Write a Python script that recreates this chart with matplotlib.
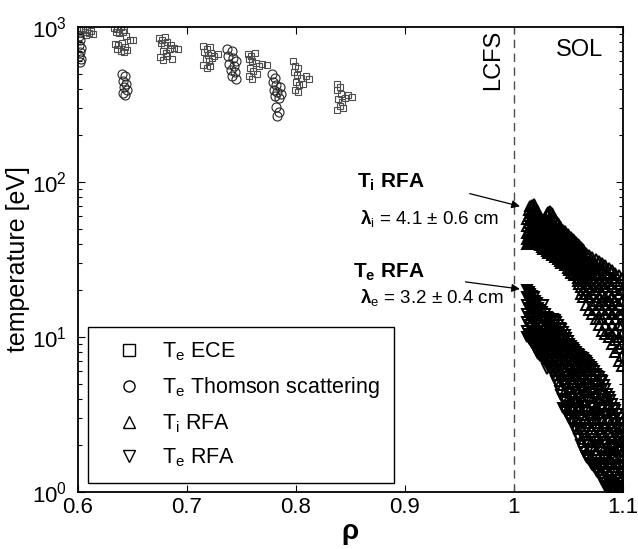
import numpy as np
import matplotlib
matplotlib.use('Agg')
import matplotlib.pyplot as plt

plt.rcParams['font.family'] = ['Liberation Sans', 'DejaVu Sans']
plt.rcParams['mathtext.fontset'] = 'custom'
plt.rcParams['mathtext.rm'] = 'Liberation Sans'
plt.rcParams['mathtext.it'] = 'Liberation Sans:italic'
plt.rcParams['mathtext.bf'] = 'Liberation Sans:bold'

# T_e ECE (squares)
ece_rho = [0.601, 0.603, 0.605, 0.606, 0.608, 0.610, 0.612, 0.614, 0.602, 0.607,
           0.633, 0.636, 0.639, 0.642, 0.635, 0.638, 0.641, 0.644, 0.648, 0.650,
           0.634, 0.637, 0.640, 0.643, 0.636, 0.639, 0.645, 0.642,
           0.674, 0.677, 0.680, 0.676, 0.679, 0.682, 0.685, 0.688, 0.692, 0.678,
           0.681, 0.684, 0.675, 0.678, 0.682, 0.686,
           0.715, 0.718, 0.721, 0.716, 0.719, 0.722, 0.725, 0.728, 0.717, 0.720,
           0.723, 0.715, 0.718, 0.721,
           0.756, 0.759, 0.762, 0.757, 0.760, 0.763, 0.766, 0.769, 0.773, 0.758,
           0.761, 0.764, 0.757, 0.760,
           0.797, 0.799, 0.802, 0.798, 0.801, 0.805, 0.809, 0.812, 0.800, 0.803,
           0.806, 0.799, 0.802,
           0.838, 0.840, 0.838, 0.841, 0.839, 0.842, 0.845, 0.848, 0.851, 0.840,
           0.843, 0.838]
ece_T = [990, 960, 985, 930, 955, 920, 940, 905, 900, 890,
         990, 975, 995, 960, 930, 910, 935, 880, 830, 820,
         780, 760, 790, 740, 720, 700, 710, 690,
         850, 830, 860, 790, 770, 800, 760, 730, 720, 700,
         680, 720, 640, 610, 650, 620,
         750, 720, 740, 690, 660, 680, 650, 670, 620, 600,
         630, 570, 545, 560,
         670, 650, 675, 620, 600, 590, 560, 580, 570, 540,
         520, 500, 480, 465,
         600, 560, 540, 510, 490, 470, 480, 460, 440, 420,
         430, 395, 380,
         430, 410, 390, 370, 345, 330, 350, 365, 355, 310,
         300, 290]

# T_e Thomson scattering (circles)
ts_rho = [0.601, 0.602, 0.601, 0.603, 0.602, 0.601, 0.603, 0.602,
          0.640, 0.643, 0.641, 0.644, 0.642, 0.645, 0.641, 0.643,
          0.737, 0.741, 0.738, 0.742, 0.745, 0.739, 0.743, 0.740, 0.744, 0.741, 0.745,
          0.778, 0.781, 0.779, 0.782, 0.785, 0.780, 0.783, 0.786, 0.781, 0.784,
          0.782, 0.784, 0.783]
ts_T = [880, 820, 770, 730, 690, 650, 620, 595,
        500, 480, 450, 430, 410, 390, 375, 365,
        720, 700, 650, 630, 600, 580, 560, 530, 510, 480, 460,
        500, 470, 440, 420, 410, 395, 380, 370, 360, 350,
        305, 285, 265]

# T_i RFA (up triangles), one list of values per rho column
ti_rho = [1.012, 1.015, 1.018, 1.021, 1.024, 1.027, 1.030, 1.033, 1.036, 1.039,
          1.042, 1.045, 1.048, 1.051, 1.054, 1.057, 1.060, 1.063, 1.066, 1.069,
          1.072, 1.075, 1.078, 1.081, 1.084, 1.087, 1.090, 1.093, 1.096, 1.099,
          1.0135, 1.0165, 1.0195, 1.0225, 1.0255, 1.0285, 1.0315, 1.0345, 1.0375,
          1.0405, 1.0435, 1.0465, 1.0495, 1.0525, 1.0555, 1.0585, 1.0615]
ti_T = [[58, 52, 47, 43, 40],
        [70, 63, 57, 51, 46, 42],
        [72, 65, 59, 53, 48, 44],
        [66, 60, 54, 49, 45, 41],
        [60, 55, 50, 46, 42, 39],
        [56, 52, 47, 43, 39, 37],
        [62, 56, 51, 46, 42, 38, 36],
        [65, 58, 52, 47, 43, 39, 35],
        [60, 55, 50, 45, 41, 37, 34],
        [56, 51, 47, 43, 39, 36, 33],
        [52, 48, 44, 40, 37, 34, 31],
        [49, 46, 42, 38, 35, 32, 30],
        [47, 43, 40, 36, 33, 31, 29],
        [45, 41, 38, 35, 32, 29, 27],
        [43, 40, 36, 33, 30, 28, 26],
        [41, 38, 35, 32, 29, 27, 25],
        [39, 36, 33, 30, 28, 26, 24, 22],
        [37, 34, 31, 29, 27, 25, 23, 20, 18],
        [35, 32, 30, 28, 26, 24, 22, 19, 16],
        [34, 31, 29, 27, 25, 23, 21, 18, 15],
        [33, 30, 28, 26, 24, 21, 19, 16, 14],
        [32, 29, 27, 25, 22, 20, 17, 15, 13],
        [31, 28, 26, 23, 21, 18, 16, 13, 12],
        [30, 27, 24, 22, 19, 17, 15, 13, 11],
        [29, 26, 23, 21, 18, 16, 14, 12, 10.5],
        [28, 25, 22, 19, 17, 15, 13, 11, 10],
        [27, 24, 21, 18, 16, 14, 12, 10.5, 9],
        [26, 23, 20, 17, 15, 13, 11, 9.5, 8],
        [25, 22, 19, 16, 14, 12, 10, 8.5, 7],
        [24, 20, 17, 14, 12, 10.5, 9, 7.5, 6.5],
        [66, 60, 54, 48, 44, 41],
        [71, 64, 58, 52, 47, 43],
        [69, 62, 56, 50, 46, 42],
        [63, 57, 52, 47, 43, 40],
        [57, 53, 48, 44, 41, 38],
        [59, 54, 49, 44, 40, 37],
        [64, 57, 51, 46, 42, 38, 35],
        [63, 57, 51, 46, 42, 38, 34],
        [58, 53, 48, 44, 40, 36, 33],
        [54, 49, 45, 41, 38, 35, 32],
        [50, 47, 43, 39, 36, 33, 30],
        [48, 44, 41, 37, 34, 31, 29],
        [46, 42, 39, 35, 32, 30, 28],
        [44, 40, 37, 34, 31, 28, 26],
        [42, 39, 35, 32, 30, 27, 25],
        [40, 37, 34, 31, 28, 26, 24, 23],
        [38, 35, 32, 29, 27, 25, 23, 21, 19]]

# T_e RFA (down triangles)
te_rho = [1.012, 1.015, 1.018, 1.021, 1.024, 1.027, 1.030, 1.033, 1.036, 1.039,
          1.042, 1.045, 1.048, 1.051, 1.054, 1.057, 1.060, 1.063, 1.066, 1.069,
          1.072, 1.075, 1.078, 1.081, 1.084, 1.087, 1.090, 1.093, 1.096, 1.099,
          1.0135, 1.0165, 1.0195, 1.0225, 1.0255, 1.0285, 1.0315, 1.0345, 1.0375,
          1.0405, 1.0435, 1.0465, 1.0495, 1.0525, 1.0555, 1.0585, 1.0615, 1.0645,
          1.0675, 1.0705, 1.0735, 1.0765, 1.0795, 1.0825, 1.0855, 1.0885, 1.0915,
          1.0945, 1.0975]
te_T = [[20, 18, 16, 14, 12.5, 11, 10],
        [19, 17, 15, 13.5, 12, 10.5, 9.5],
        [18, 16, 14, 12.5, 11, 10, 9],
        [16.5, 14, 12.5, 11, 10, 9, 8],
        [15, 13.5, 12, 10.5, 9.5, 8.5, 7.5],
        [16, 13, 11.5, 10, 9, 8, 7.2],
        [13.5, 12, 10.5, 9.5, 8.5, 7.5, 6.8, 6.2],
        [13, 11.5, 10, 9, 8, 7, 6.3],
        [13, 11, 9.5, 8.5, 7.5, 6.5, 5.8],
        [12.5, 10.5, 9, 8, 7, 6, 5.2],
        [11.5, 10, 8.5, 7.5, 6.5, 5.5, 4.5],
        [10.8, 9.5, 8, 7, 6, 5, 4, 3.5],
        [9.8, 8.6, 7.5, 6.5, 5.5, 4.6, 3.8, 3.3],
        [9, 8, 7, 6, 5.2, 4.3, 3.5, 3.0],
        [8.5, 7.5, 6.5, 5.6, 4.8, 4.0, 3.3, 2.8],
        [8, 7, 6, 5.2, 4.4, 3.7, 3.0, 2.5],
        [7.6, 6.6, 5.6, 4.8, 4.0, 3.3, 2.6, 2.2],
        [7.3, 6.2, 5.2, 4.4, 3.6, 2.9, 2.3, 1.9],
        [7.0, 5.9, 4.9, 4.1, 3.3, 2.6, 2.1, 1.7],
        [6.6, 5.5, 4.6, 3.8, 3.0, 2.4, 1.9, 1.6],
        [6.2, 5.2, 4.3, 3.5, 2.8, 2.2, 1.8, 1.5],
        [5.8, 4.8, 4.0, 3.2, 2.6, 2.0, 1.6, 1.4],
        [5.5, 4.5, 3.7, 3.0, 2.4, 1.9, 1.5, 1.3],
        [5.2, 4.2, 3.4, 2.8, 2.2, 1.7, 1.4, 1.2],
        [4.6, 3.8, 3.1, 2.5, 2.0, 1.6, 1.3, 1.1],
        [4.1, 3.4, 2.8, 2.3, 1.8, 1.5, 1.2, 1.05],
        [3.7, 3.0, 2.5, 2.0, 1.7, 1.4, 1.15, 1.0],
        [3.4, 2.8, 2.3, 1.9, 1.6, 1.3, 1.1, 1.0],
        [3.0, 2.5, 2.1, 1.7, 1.45, 1.2, 1.05],
        [2.6, 2.2, 1.8, 1.5, 1.3, 1.1, 1.0],
        [19.5, 17.5, 15.5, 13.5, 12, 10.5, 9.8],
        [18.5, 16.5, 14.5, 13, 11.5, 10.2, 9.2],
        [17, 15, 13.5, 12, 10.5, 9.5, 8.5],
        [15.5, 14, 12.5, 11, 9.8, 8.8, 7.8],
        [14.5, 13, 11.5, 10.2, 9.2, 8.2, 7.3],
        [14, 12.5, 11, 9.8, 8.8, 7.8, 7.0],
        [13.2, 11.8, 10.3, 9.2, 8.2, 7.2, 6.5],
        [13, 11.2, 9.8, 8.8, 7.8, 6.8, 6.0],
        [12.8, 10.8, 9.3, 8.2, 7.2, 6.2, 5.5],
        [12, 10.2, 8.8, 7.8, 6.8, 5.8, 4.9],
        [11.2, 9.8, 8.3, 7.2, 6.2, 5.2, 4.2],
        [10.3, 9, 7.8, 6.8, 5.8, 4.8, 3.9, 3.4],
        [9.4, 8.3, 7.2, 6.2, 5.3, 4.4, 3.6, 3.1],
        [8.8, 7.8, 6.8, 5.8, 5.0, 4.1, 3.4, 2.9],
        [8.2, 7.2, 6.2, 5.4, 4.6, 3.8, 3.1, 2.6],
        [7.8, 6.8, 5.8, 5.0, 4.2, 3.5, 2.8, 2.3],
        [7.4, 6.4, 5.4, 4.6, 3.8, 3.1, 2.5, 2.0],
        [7.1, 6.0, 5.0, 4.2, 3.4, 2.7, 2.2, 1.8],
        [6.8, 5.7, 4.7, 3.9, 3.1, 2.5, 2.0, 1.65],
        [6.4, 5.3, 4.4, 3.6, 2.9, 2.3, 1.85, 1.55],
        [6.0, 5.0, 4.1, 3.3, 2.7, 2.1, 1.7, 1.45],
        [5.6, 4.6, 3.8, 3.1, 2.5, 1.95, 1.55, 1.35],
        [5.3, 4.3, 3.5, 2.9, 2.3, 1.8, 1.45, 1.25],
        [4.9, 4.0, 3.2, 2.6, 2.1, 1.65, 1.35, 1.15],
        [4.3, 3.6, 2.9, 2.4, 1.9, 1.55, 1.25, 1.08],
        [3.9, 3.2, 2.6, 2.1, 1.75, 1.45, 1.18, 1.02],
        [3.5, 2.9, 2.4, 1.95, 1.65, 1.35, 1.12, 1.0],
        [3.2, 2.6, 2.2, 1.8, 1.5, 1.25, 1.08],
        [2.8, 2.3, 1.9, 1.6, 1.35, 1.15, 1.02]]

labels = [r'T$_\mathregular{e}$ ECE', r'T$_\mathregular{e}$ Thomson scattering',
          r'T$_\mathregular{i}$ RFA', r'T$_\mathregular{e}$ RFA']


def flatten(rho, vals):
    xs, ys = [], []
    for r, col in zip(rho, vals):
        for v in col:
            xs.append(r)
            ys.append(v)
    return xs, ys


ti_x, ti_y = flatten(ti_rho, ti_T)
te_x, te_y = flatten(te_rho, te_T)

fig = plt.figure(figsize=(6.38, 5.49), dpi=100)
ax = fig.add_axes([0.1223, 0.1038, 0.854, 0.847])

ax.plot(ece_rho, ece_T, 's', mfc='none', mec='0.3', ms=4.5, mew=0.8, label=labels[0])
ax.plot(ts_rho, ts_T, 'o', mfc='none', mec='0.15', ms=6.5, mew=0.8, label=labels[1])
ax.plot(ti_x, ti_y, '^', mfc='none', mec='k', ms=6.5, mew=1.4, label=labels[2])
ax.plot(te_x, te_y, 'v', mfc='none', mec='k', ms=6.5, mew=1.4, label=labels[3])

ax.axvline(1.0, color='0.3', ls=(0, (6, 4)), lw=1)

ax.set_yscale('log')
ax.set_xlim(0.6, 1.1)
ax.set_ylim(1, 1000)
ax.set_xticks([0.6, 0.7, 0.8, 0.9, 1.0, 1.1])
ax.set_xticklabels(['0.6', '0.7', '0.8', '0.9', '1', '1.1'])
ax.tick_params(which='both', direction='in', top=True, right=True, labelsize=16, width=0.8)
ax.tick_params(which='major', length=5)
ax.tick_params(which='minor', length=3)
ax.tick_params(axis='y', pad=8)
for s in ax.spines.values():
    s.set_linewidth(1.3)

ax.set_xlabel(r'$\mathbf{ρ}$', fontsize=20, labelpad=2)
ax.set_ylabel('temperature [eV]', fontsize=18)
ax.yaxis.set_label_coords(-0.088, 0.5)

ax.text(0.981, 960, 'LCFS', rotation=90, ha='center', va='top', fontsize=17)
ax.text(1.06, 710, 'SOL', ha='center', va='center', fontsize=17)

ax.text(0.512, 0.665, r'T$_\mathbf{i}$ RFA', transform=ax.transAxes, fontsize=15,
        fontweight='bold', va='center')
ax.text(0.517, 0.589, r'$\mathbf{λ}_\mathregular{i}$ = 4.1 ± 0.6 cm', transform=ax.transAxes,
        fontsize=13.5, va='center')
ax.text(0.505, 0.473, r'T$_\mathbf{e}$ RFA', transform=ax.transAxes, fontsize=15,
        fontweight='bold', va='center')
ax.text(0.517, 0.419, r'$\mathbf{λ}_\mathregular{e}$ = 3.2 ± 0.4 cm', transform=ax.transAxes,
        fontsize=13.5, va='center')

ax.annotate('', xy=(1.008, 69), xytext=(0.957, 85),
            arrowprops=dict(arrowstyle='-|>', color='k', lw=0.9, mutation_scale=12))
ax.annotate('', xy=(1.008, 20.3), xytext=(0.953, 22.8),
            arrowprops=dict(arrowstyle='-|>', color='k', lw=0.9, mutation_scale=12))

leg = ax.legend(loc='lower left', bbox_to_anchor=(0.018, 0.019), borderaxespad=0,
                fontsize=15.5, fancybox=False, edgecolor='k', framealpha=1,
                handlelength=2.5, handletextpad=0.3, labelspacing=0.55, borderpad=0.65)
leg.get_frame().set_linewidth(1.0)
for h in leg.legend_handles:
    h.set_markeredgecolor('k')
    h.set_markersize(8)
    h.set_markeredgewidth(1.0)

fig.savefig('out.png', dpi=100)
